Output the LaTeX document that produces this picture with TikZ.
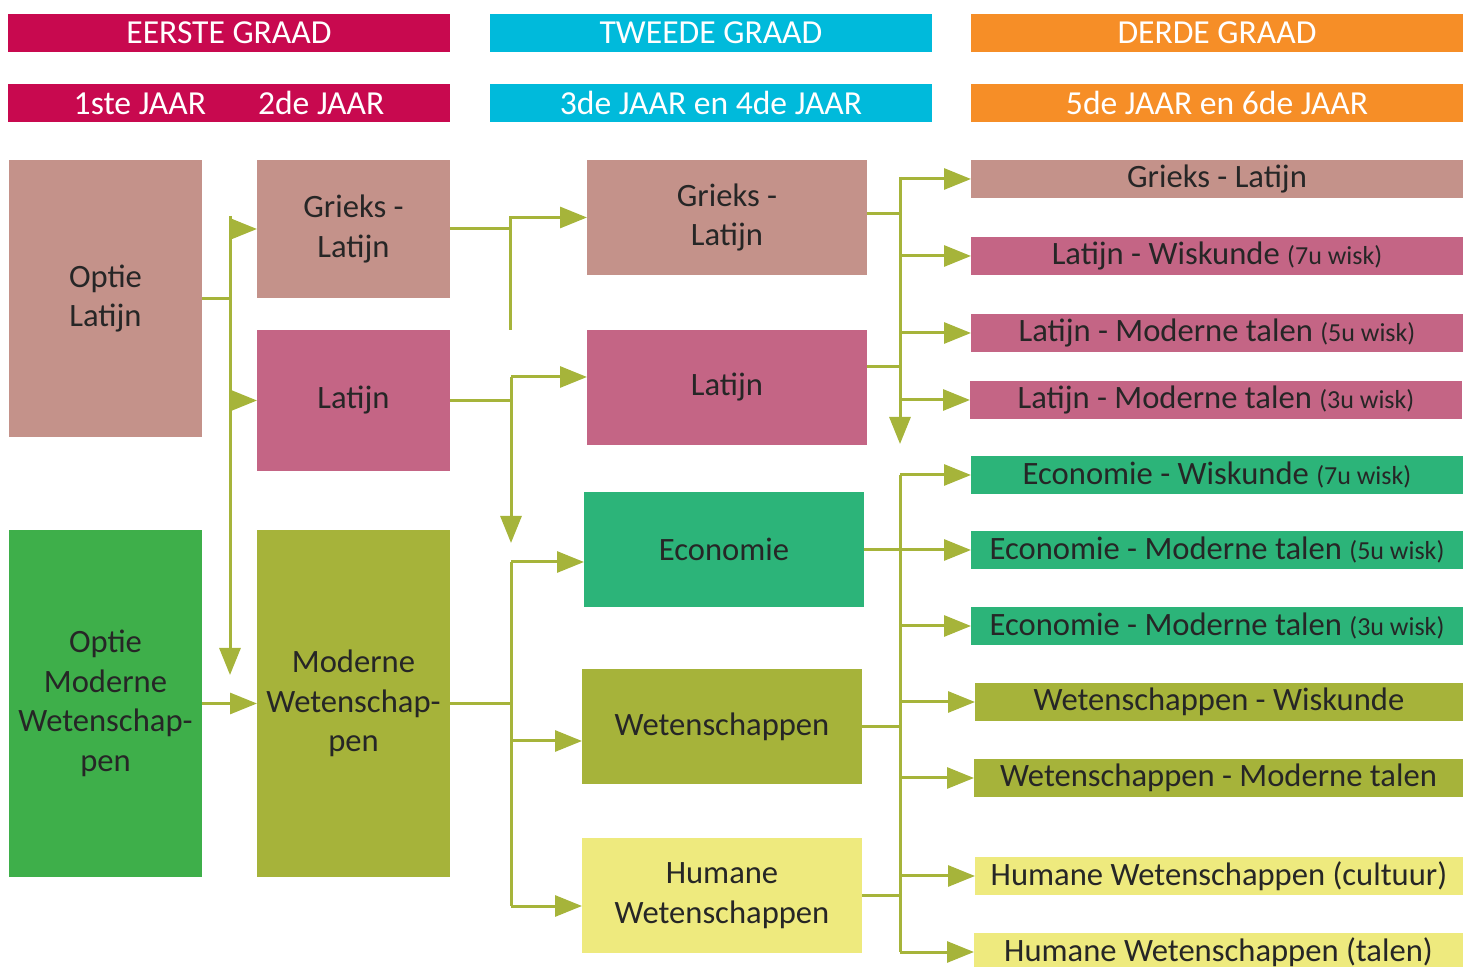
\documentclass[tikz,border=0pt]{standalone}
\usepackage{fontspec}
\setmainfont{Carlito}
\usetikzlibrary{arrows.meta}

\definecolor{graad1}{HTML}{C8094F}
\definecolor{graad2}{HTML}{00BADB}
\definecolor{graad3}{HTML}{F68E27}
\definecolor{rose}{HTML}{C4928A}
\definecolor{lat}{HTML}{C46585}
\definecolor{optgreen}{HTML}{3EAF4A}
\definecolor{olive}{HTML}{A6B33A}
\definecolor{eco}{HTML}{2CB479}
\definecolor{hum}{HTML}{EEEA7E}
\definecolor{txt}{HTML}{262626}
\definecolor{lnk}{HTML}{A6B43A}

\newcommand{\wiskuren}[1]{{\fontsize{13}{15}\selectfont (#1u wisk)}}

\begin{document}
\begin{tikzpicture}[x=0.5pt,y=-0.5pt,
    box/.style={rectangle, inner sep=0pt, outer sep=0pt, anchor=north west,
      text=txt, align=center, font=\fontsize{16.3}{19.8}\selectfont},
    head/.style={box, text=white, minimum height=19pt, font=\fontsize{16.8}{19}\selectfont},
    keuze/.style={box, minimum width=246pt, minimum height=19pt},
    link/.style={draw=lnk, line width=1.5pt},
    arr/.style={link, -{Triangle[length=13.5pt,width=10.5pt]}}]
  \useasboundingbox (0,0) rectangle (1463,967);

  % graden en jaren
  \node[head, fill=graad1, minimum width=221pt] (g1) at (8,14) {EERSTE GRAAD};
  \node[head, fill=graad2, minimum width=221pt] (g2) at (490,14) {TWEEDE GRAAD};
  \node[head, fill=graad3, minimum width=246pt] (g3) at (971,14) {DERDE GRAAD};
  \node[head, fill=graad1, minimum width=221pt] (j1) at (8,84) {1ste JAAR\hspace{26pt}2de JAAR};
  \node[head, fill=graad2, minimum width=221pt] (j2) at (490,84) {3de JAAR en 4de JAAR};
  \node[head, fill=graad3, minimum width=246pt] (j3) at (971,84) {5de JAAR en 6de JAAR};

  % eerste graad
  \node[box, fill=rose, minimum width=96.5pt, minimum height=138.5pt] (optlat) at (9,160) {Optie\\Latijn};
  \node[box, fill=optgreen, minimum width=96.5pt, minimum height=173.5pt] (optmw) at (9,530) {Optie\\Moderne\\Wetenschap-\\pen};
  \node[box, fill=rose, minimum width=96.5pt, minimum height=69pt] (gl2) at (257,160) {Grieks -\\Latijn};
  \node[box, fill=lat, minimum width=96.5pt, minimum height=70.5pt] (lat2) at (257,330) {Latijn};
  \node[box, fill=olive, minimum width=96.5pt, minimum height=173.5pt] (mw2) at (257,530) {Moderne\\Wetenschap-\\pen};

  % tweede graad
  \node[box, fill=rose, minimum width=140pt, minimum height=57.5pt] (gl3) at (587,160) {Grieks -\\Latijn};
  \node[box, fill=lat, minimum width=140pt, minimum height=57.5pt] (lat3) at (587,330) {Latijn};
  \node[box, fill=eco, minimum width=140pt, minimum height=57.5pt] (eco3) at (584,492) {Economie};
  \node[box, fill=olive, minimum width=140pt, minimum height=57.5pt] (wet3) at (582,669) {Wetenschappen};
  \node[box, fill=hum, minimum width=140pt, minimum height=57.5pt] (hum3) at (582,838) {Humane\\Wetenschappen};

  % derde graad
  \node[keuze, fill=rose] (r1) at (971,160) {Grieks - Latijn};
  \node[keuze, fill=lat] (r2) at (971,237) {Latijn - Wiskunde \wiskuren{7}};
  \node[keuze, fill=lat] (r3) at (971,314) {Latijn - Moderne talen \wiskuren{5}};
  \node[keuze, fill=lat] (r4) at (970,381) {Latijn - Moderne talen \wiskuren{3}};
  \node[keuze, fill=eco] (r5) at (971,456) {Economie - Wiskunde \wiskuren{7}};
  \node[keuze, fill=eco] (r6) at (971,531) {Economie - Moderne talen \wiskuren{5}};
  \node[keuze, fill=eco] (r7) at (971,607) {Economie - Moderne talen \wiskuren{3}};
  \node[keuze, fill=olive, minimum width=244pt] (r8) at (975,683) {Wetenschappen - Wiskunde};
  \node[keuze, fill=olive, minimum width=244.5pt] (r9) at (974,759) {Wetenschappen - Moderne talen};
  \node[keuze, fill=hum, minimum width=244pt] (r10) at (975,857) {Humane Wetenschappen (cultuur)};
  \node[keuze, fill=hum, minimum width=244.5pt] (r11) at (974,933) {Humane Wetenschappen (talen)};

  % eerste naar tweede jaar
  \coordinate (a1top) at (230,216);
  \coordinate (a1bot) at (230,675);
  \draw[arr] (a1top) -- (a1bot);
  \draw[link] (optlat.east) -- (optlat.east -| a1top);
  \draw[arr] (gl2.west -| a1top) -- (gl2.west);
  \draw[arr] (lat2.west -| a1top) -- (lat2.west);
  \draw[arr] (optmw.east) -- (mw2.west);

  % naar tweede graad
  \coordinate (b1) at (510,330);
  \draw[link] (gl2.east) -- (gl2.east -| b1);
  \draw[arr] (b1) |- (gl3.west);
  \coordinate (b2top) at (511,377);
  \coordinate (b2bot) at (511,543);
  \draw[link] (lat2.east) -- (lat2.east -| b2top);
  \draw[arr] (b2top) -- (b2bot);
  \draw[arr] (b2top) -- (b2top -| lat3.west);
  \coordinate (c1) at (511,562);
  \coordinate (c2) at (511,741);
  \coordinate (c3) at (511,906);
  \draw[link] (c1) -- (c3);
  \draw[link] (mw2.east) -- (mw2.east -| c1);
  \draw[arr] (c1) -- (c1 -| eco3.west);
  \draw[arr] (c2) -- (c2 -| wet3.west);
  \draw[arr] (c3) -- (c3 -| hum3.west);

  % naar derde graad
  \coordinate (d1top) at (900,177);
  \coordinate (d1bot) at (900,444);
  \draw[arr] (d1top) -- (d1bot);
  \draw[link] ([yshift=2pt]gl3.east) -- ([yshift=2pt]gl3.east -| d1top);
  \draw[link] ([yshift=10.5pt]lat3.east) -| (d1top);
  \foreach \r in {r1,r2,r3,r4}
    \draw[arr] (\r.west -| d1top) -- (\r.west);
  \coordinate (d2top) at (900,475);
  \coordinate (d2bot) at (900,952);
  \draw[link] (d2top) -- (d2bot);
  \draw[link] (eco3.east) -- (eco3.east -| d2top);
  \draw[link] (wet3.east) -- (wet3.east -| d2top);
  \draw[link] (hum3.east) -- (hum3.east -| d2top);
  \foreach \r in {r5,r6,r7,r8,r9,r10,r11}
    \draw[arr] (\r.west -| d2top) -- (\r.west);
\end{tikzpicture}
\end{document}
